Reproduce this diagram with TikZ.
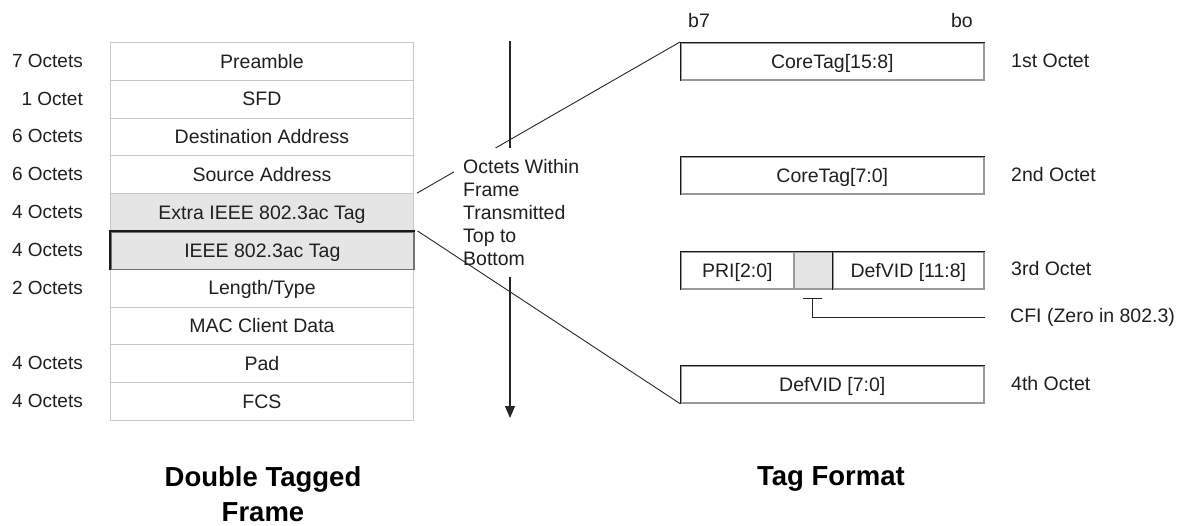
\documentclass[tikz,border=0pt]{standalone}
\usepackage{fontspec}
\setmainfont{Liberation Sans}
\usetikzlibrary{arrows.meta}
\definecolor{txt}{gray}{0.12}
\definecolor{cellline}{gray}{0.78}
\definecolor{tagfill}{gray}{0.9}
\begin{document}
\begin{tikzpicture}[x=1pt,y=-1pt,
  every node/.style={font=\fontsize{19.5}{23}\selectfont, text=txt, inner sep=0},
  cell/.style={draw=cellline, line width=0.9, minimum width=303, minimum height=37.8,
               anchor=north west, text height=13.7, text depth=0},
  graycell/.style={cell, fill=tagfill},
  darkcell/.style={cell, fill=tagfill, draw=black!55, line width=1.6},
  rowlab/.style={anchor=base east, font=\fontsize{19}{23}\selectfont},
  tagbox/.style={draw=black!40, line width=1.6, minimum height=37, anchor=north west,
                 text height=13.7, text depth=0},
  side/.style={anchor=base west},
  title/.style={font=\bfseries\fontsize{27.5}{35}\selectfont, text=black, align=center, anchor=north},
  conn/.style={draw=black!85, line width=0.9},
]
\useasboundingbox (0,0) rectangle (1185,526);

% ---- frame table ----
\node[cell]     (r1)  at (110,42.0)  {Preamble};
\node[cell]     (r2)  at (110,79.8)  {SFD};
\node[cell]     (r3)  at (110,117.6) {Destination Address};
\node[cell]     (r4)  at (110,155.4) {Source Address};
\node[graycell] (r5)  at (110,193.2) {Extra IEEE 802.3ac Tag};
\node[cell]     (r7)  at (110,268.8) {Length/Type};
\node[cell]     (r8)  at (110,306.6) {MAC Client Data};
\node[cell]     (r9)  at (110,344.4) {Pad};
\node[cell]     (r10) at (110,382.2) {FCS};
\node[darkcell] (r6)  at (110,231.0) {IEEE 802.3ac Tag};
\draw[black!90, line width=1.1] (r6.south west) -- (r6.north west) -- (r6.north east);

\node[rowlab] (l1)  at (83,67.4)  {7 Octets};
\node[rowlab] (l2)  at (83,105.2) {1 Octet};
\node[rowlab] (l3)  at (83,143.0) {6 Octets};
\node[rowlab] (l4)  at (83,180.8) {6 Octets};
\node[rowlab] (l5)  at (83,218.6) {4 Octets};
\node[rowlab] (l6)  at (83,256.4) {4 Octets};
\node[rowlab] (l7)  at (83,294.2) {2 Octets};
\node[rowlab] (l9)  at (83,369.8) {4 Octets};
\node[rowlab] (l10) at (83,407.6) {4 Octets};

% ---- tag format boxes ----
\node[tagbox, minimum width=303] (t1) at (680,42)  {CoreTag[15:8]};
\node[tagbox, minimum width=303] (t2) at (680,156) {CoreTag[7:0]};
\node[tagbox, minimum width=113] (t3a) at (680,251) {PRI[2:0]};
\node[tagbox, minimum width=39, fill=tagfill] (t3b) at (793,251) {};
\node[tagbox, minimum width=151] (t3c) at (832,251) {DefVID [11:8]};
\node[tagbox, minimum width=303] (t4) at (680,365) {DefVID [7:0]};
\foreach \b in {t1,t2,t3a,t3c,t4}{
  \draw[black!90, line width=0.9] (\b.south west) -- (\b.north west) -- (\b.north east);
}
\draw[black!90, line width=0.9] (t3b.north west) -- (t3b.north east);

\node[anchor=base west] (b7) at (688,28) {b7};
\node[anchor=base east] (b0) at (973,28) {bo};

\node[side] (o1) at (1011,68)  {1st Octet};
\node[side] (o2) at (1011,182) {2nd Octet};
\node[side] (o3) at (1011,276) {3rd Octet};
\node[side] (o4) at (1011,390) {4th Octet};
\node[side] (cfil) at (1010,323) {CFI (Zero in 802.3)};

% CFI bracket
\coordinate (ckl) at (803,298);
\coordinate (ckr) at (822,298);
\coordinate (ckm) at (812.5,298);
\coordinate (ckc) at (812.5,317);
\coordinate (cke) at (985,317);
\draw[conn] (ckl) -- (ckr);
\draw[conn] (ckm) -- (ckc) -- (cke);

% ---- transmission arrow and expansion lines ----
\coordinate (atop) at (510,41);
\coordinate (abot) at (510,418);
\draw[conn, line width=1.2, -{Triangle[length=12,width=10]}] (atop) -- (abot);
\coordinate (x1) at ([xshift=3]r5.north east);
\draw[conn] (x1) -- (t1.north west);

\node[fill=white, align=left, anchor=north west, inner xsep=9, inner ysep=11] (note)
  at (454,148) {Octets Within\\Frame\\Transmitted\\Top to\\Bottom};

\coordinate (x2) at ([xshift=3]r6.north east);
\draw[conn] (x2) -- (t4.south west);

% ---- titles ----
\node[title] (ft) at (263,466) {Double Tagged\\Frame};
\node[title] (tt) at (831,466) {Tag Format};
\end{tikzpicture}
\end{document}
